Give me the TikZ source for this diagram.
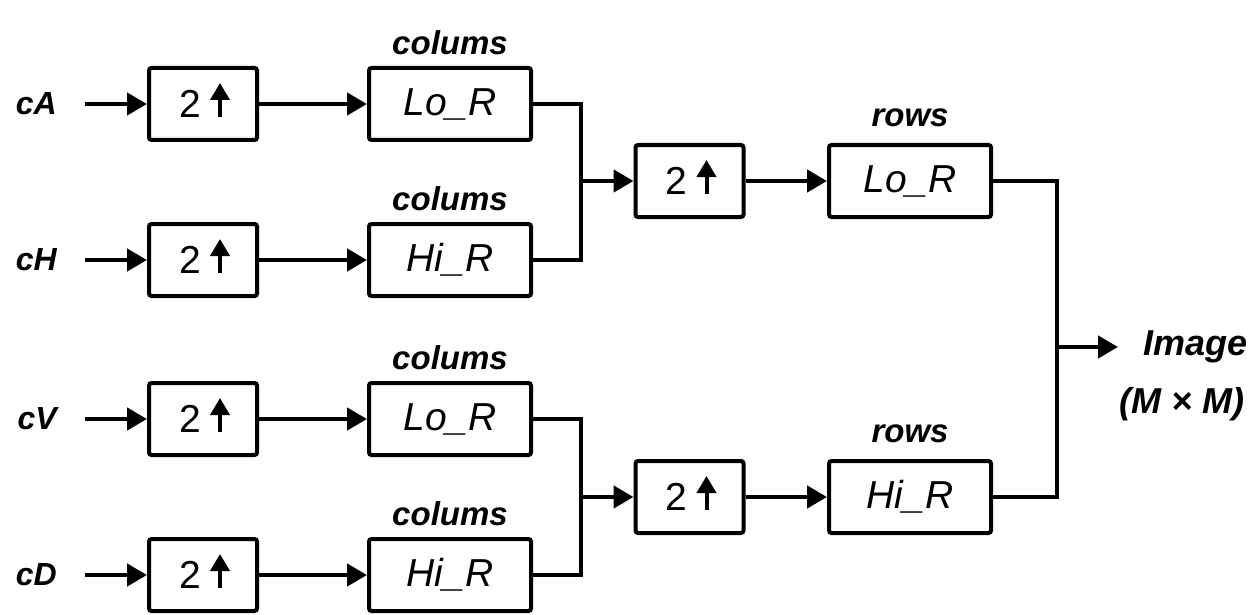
\documentclass[tikz,border=0pt]{standalone}
\usepackage{fontspec}
\setmainfont{Liberation Sans}
\usetikzlibrary{arrows.meta}
\begin{document}
\begin{tikzpicture}[x=1pt,y=-1pt,
  blk/.style={draw,line width=4pt,rounded corners=2.5pt,inner sep=0pt},
  upblk/.style={blk,minimum width=108pt,minimum height=72pt,
    font=\fontsize{39}{39}\selectfont},
  filt/.style={blk,minimum width=162pt,minimum height=72pt,
    font=\itshape\fontsize{39}{39}\selectfont},
  inlabel/.style={anchor=east,inner sep=0pt,
    font=\bfseries\itshape\fontsize{32}{32}\selectfont},
  toplabel/.style={anchor=south,inner sep=0pt,
    font=\bfseries\itshape\fontsize{33}{33}\selectfont},
  outlabel/.style={inner sep=0pt,
    font=\bfseries\itshape\fontsize{36}{36}\selectfont},
  wire/.style={line width=4.5pt},
  arr/.style={line width=4.5pt,-{Triangle[length=20pt,width=22pt]}},
  uparr/.style={line width=4pt,-{Triangle[length=17pt,width=19pt]}},
]
\useasboundingbox (0,0) rectangle (1255,615);

% input coefficients
\node[inlabel] (cA) at (57,104) {cA};
\node[inlabel] (cH) at (57,260) {cH};
\node[inlabel] (cV) at (57,419) {cV};
\node[inlabel] (cD) at (57,575) {cD};

% first upsampling stage
\node[upblk] (u1) at (203,104) {2\rule{26pt}{0pt}};
\node[upblk] (u2) at (203,260) {2\rule{26pt}{0pt}};
\node[upblk] (u3) at (203,419) {2\rule{26pt}{0pt}};
\node[upblk] (u4) at (203,575) {2\rule{26pt}{0pt}};

% column filters
\node[filt] (c1) at (450,104) {Lo\_R};
\node[filt] (c2) at (450,260) {Hi\_R};
\node[filt] (c3) at (450,419) {Lo\_R};
\node[filt] (c4) at (450,575) {Hi\_R};
\node[toplabel] (l1) at ([yshift=11pt]c1.north) {colums};
\node[toplabel] (l2) at ([yshift=11pt]c2.north) {colums};
\node[toplabel] (l3) at ([yshift=11pt]c3.north) {colums};
\node[toplabel] (l4) at ([yshift=11pt]c4.north) {colums};

% second upsampling stage
\coordinate (j1) at (581,181);
\coordinate (j3) at (581,497);
\node[upblk] (m1) at (689.5,181) {2\rule{26pt}{0pt}};
\node[upblk] (m2) at (689.5,497) {2\rule{26pt}{0pt}};

% row filters
\node[filt] (r1) at (910,181) {Lo\_R};
\node[filt] (r2) at (910,497) {Hi\_R};
\node[toplabel] (k1) at ([yshift=16pt]r1.north) {rows};
\node[toplabel] (k2) at ([yshift=16pt]r2.north) {rows};

% output
\coordinate (j2) at (1057,347);
\node[outlabel,anchor=west] (out1) at (1143,347) {Image};
\node[outlabel,anchor=base east] (out2) at (1245,413) {(M × M)};

% up arrows inside the upsampling blocks
\foreach \n in {u1,u2,u3,u4,m1,m2}
  \draw[uparr] ([xshift=17pt,yshift=-13pt]\n.center) -- ++(0pt,34pt);

% connectors
\foreach \a/\b in {cA/u1,cH/u2,cV/u3,cD/u4}
  \draw[arr,shorten <=28pt] (\a) -- (\b);
\foreach \a/\b in {u1/c1,u2/c2,u3/c3,u4/c4,m1/r1,m2/r2}
  \draw[arr] (\a) -- (\b);
\draw[wire] (c1.east) -| (j1);
\draw[wire] (c2.east) -| (j1);
\draw[arr] (j1) -- (m1.west);
\draw[wire] (c3.east) -| (j3);
\draw[wire] (c4.east) -| (j3);
\draw[arr] (j3) -- (m2.west);
\draw[wire] (r1.east) -| (j2);
\draw[wire] (r2.east) -| (j2);
\draw[arr,shorten >=25pt] (j2) -- (j2 -| out1.west);
\end{tikzpicture}
\end{document}
